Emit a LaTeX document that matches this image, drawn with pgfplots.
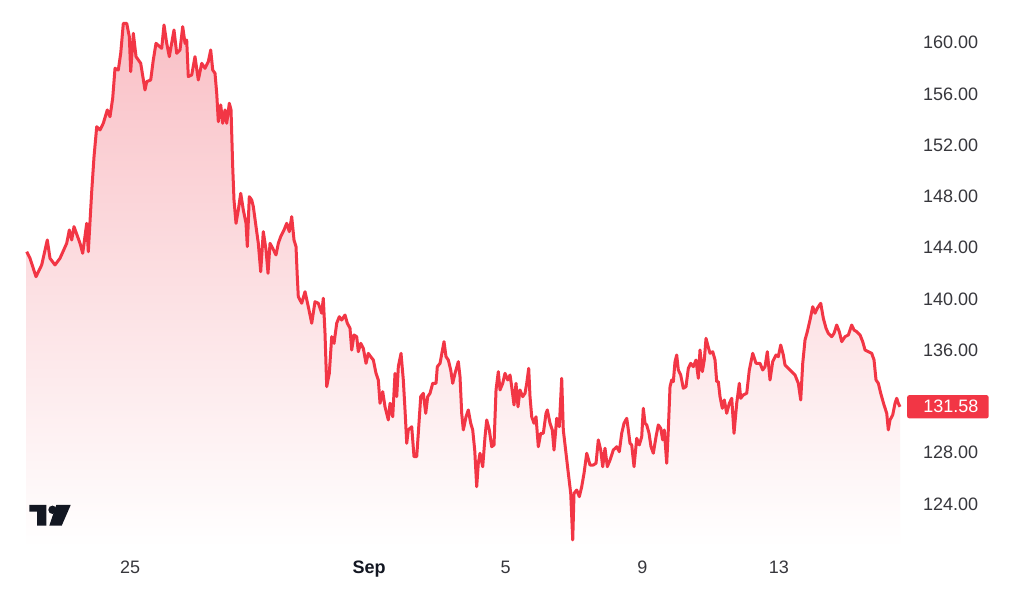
\documentclass[border=0pt]{standalone}
\usepackage{pgfplots}
\pgfplotsset{compat=1.18}
\usepackage{pgfplotstable}
\usepackage{fontspec}
\setmainfont{Liberation Sans}
\definecolor{tvred}{RGB}{242,54,69}
\definecolor{tvfill}{RGB}{249,192,198}
\definecolor{lbl}{RGB}{55,55,60}
\definecolor{tvdark}{RGB}{19,23,34}

% d = day (Aug 25 = 25, Sep 1 = 32, ...), v = price
\pgfplotstableread{
d v
21.975 143.68
22.072 143.17
22.247 141.73
22.414 142.65
22.578 144.60
22.657 143.17
22.804 142.65
22.950 143.17
23.146 144.34
23.223 145.38
23.293 144.60
23.360 145.64
23.536 144.34
23.615 143.56
23.732 145.90
23.779 143.68
23.878 148.37
23.946 151.10
24.025 153.44
24.122 153.19
24.218 153.71
24.335 154.75
24.414 154.22
24.493 155.66
24.561 158.00
24.657 157.87
24.728 159.17
24.804 161.51
24.903 161.51
24.980 160.47
25.020 157.74
25.097 160.73
25.176 158.91
25.313 158.39
25.439 156.31
25.489 156.96
25.606 157.09
25.682 158.65
25.761 159.95
25.928 159.56
25.996 161.38
26.075 159.95
26.151 158.91
26.288 160.99
26.368 159.17
26.464 159.43
26.543 161.25
26.611 159.95
26.660 160.21
26.707 157.35
26.807 157.48
26.903 158.91
27.000 157.09
27.100 158.39
27.196 158.00
27.293 158.52
27.363 159.43
27.422 157.87
27.489 157.61
27.539 156.05
27.586 153.83
27.656 155.14
27.715 153.71
27.782 154.75
27.832 153.71
27.908 155.27
27.958 154.75
28.007 150.32
28.045 147.72
28.104 145.90
28.171 146.94
28.242 148.24
28.318 146.94
28.397 145.90
28.435 144.08
28.493 147.98
28.564 147.72
28.611 147.20
28.690 145.64
28.757 144.34
28.827 142.12
28.903 145.25
28.983 143.82
29.041 142.00
29.100 144.34
29.179 143.95
29.275 143.43
29.343 144.34
29.413 144.86
29.510 145.38
29.589 145.90
29.665 145.25
29.735 146.42
29.802 144.60
29.861 144.08
29.896 141.87
29.928 140.17
30.028 139.66
30.125 140.56
30.221 139.39
30.321 138.10
30.417 139.78
30.514 139.66
30.614 138.88
30.660 140.05
30.710 137.31
30.760 133.15
30.836 134.19
30.906 137.05
30.974 136.53
31.053 138.10
31.129 138.61
31.199 138.35
31.296 138.74
31.363 138.10
31.442 137.71
31.492 136.01
31.559 137.18
31.638 137.05
31.685 135.88
31.756 136.53
31.832 136.14
31.911 134.97
31.978 135.75
32.048 135.49
32.125 135.23
32.204 134.19
32.271 133.67
32.321 131.85
32.400 132.76
32.467 131.58
32.564 130.55
32.614 131.85
32.693 130.80
32.760 134.19
32.810 132.37
32.857 134.71
32.936 135.75
33.003 133.67
33.053 131.33
33.103 128.73
33.149 129.77
33.249 130.02
33.316 127.68
33.395 127.68
33.442 129.51
33.513 132.37
33.589 132.63
33.659 131.07
33.718 132.37
33.785 132.63
33.864 133.41
33.961 133.41
33.999 134.71
34.078 134.97
34.195 136.66
34.253 135.49
34.321 135.23
34.391 134.45
34.450 133.41
34.517 134.19
34.614 135.10
34.663 133.93
34.713 131.07
34.760 129.77
34.839 130.80
34.906 131.33
34.977 130.29
35.035 129.77
35.094 128.20
35.152 125.34
35.199 127.17
35.249 127.95
35.328 126.90
35.396 129.24
35.445 130.55
35.521 129.77
35.592 128.46
35.659 128.60
35.718 132.89
35.785 134.32
35.835 132.89
35.914 133.41
35.981 134.19
36.060 133.67
36.128 134.06
36.177 133.15
36.245 131.72
36.303 133.41
36.362 131.58
36.420 132.89
36.499 132.37
36.567 132.63
36.617 133.41
36.675 134.58
36.713 132.37
36.763 130.80
36.830 130.29
36.889 130.80
36.956 128.46
37.027 129.51
37.103 129.51
37.182 131.07
37.220 131.33
37.299 130.29
37.366 129.77
37.416 128.20
37.495 130.68
37.571 130.02
37.641 133.80
37.688 129.77
37.767 127.95
37.835 126.39
37.905 124.82
37.964 121.18
38.002 124.82
38.081 125.08
38.157 124.56
38.227 125.34
38.295 126.39
38.374 127.95
38.470 127.03
38.567 127.03
38.646 127.17
38.713 128.99
38.784 128.20
38.842 126.90
38.909 128.34
38.977 126.90
39.056 127.42
39.152 128.20
39.252 128.46
39.328 128.07
39.398 129.51
39.466 130.29
39.545 130.68
39.592 129.77
39.641 128.73
39.691 128.60
39.759 126.90
39.838 129.12
39.914 128.60
39.984 129.24
40.031 131.46
40.081 130.29
40.131 130.16
40.198 129.51
40.256 128.46
40.324 127.95
40.403 129.24
40.470 130.16
40.541 129.90
40.599 128.99
40.646 129.77
40.716 127.17
40.763 129.77
40.813 133.15
40.863 133.67
40.910 133.54
40.959 135.10
41.009 135.62
41.056 134.45
41.126 134.06
41.202 133.02
41.281 133.15
41.349 134.58
41.419 134.97
41.495 134.71
41.574 135.23
41.642 133.80
41.691 136.01
41.759 134.32
41.817 135.23
41.867 136.92
41.917 136.40
41.984 135.75
42.063 135.88
42.131 135.23
42.180 133.54
42.227 133.54
42.277 132.37
42.344 131.46
42.403 132.11
42.473 131.07
42.549 131.85
42.620 132.24
42.687 129.51
42.766 131.85
42.842 133.41
42.883 132.24
42.959 132.50
43.059 132.63
43.135 134.45
43.235 135.75
43.331 134.97
43.448 134.97
43.527 134.45
43.595 134.71
43.662 135.88
43.741 133.67
43.820 135.10
43.917 135.62
43.984 135.49
44.054 136.40
44.131 135.62
44.180 134.84
44.277 134.58
44.377 134.32
44.473 134.06
44.570 133.41
44.640 132.11
44.699 134.97
44.766 136.79
44.833 137.44
44.912 138.35
44.992 139.39
45.059 138.88
45.126 139.27
45.226 139.66
45.302 138.49
45.381 137.71
45.448 137.31
45.548 137.05
45.615 137.31
45.694 137.96
45.770 137.44
45.841 136.66
45.937 137.05
46.034 137.18
46.134 137.96
46.201 137.57
46.280 137.44
46.377 137.18
46.456 136.66
46.523 136.01
46.620 135.88
46.719 135.75
46.787 135.23
46.845 133.67
46.913 133.41
46.983 132.63
47.079 131.72
47.159 131.07
47.205 129.77
47.255 130.55
47.334 130.94
47.402 131.85
47.451 132.24
47.498 131.85
47.548 131.58
}\pricedata

\begin{document}
\begin{tikzpicture}
\useasboundingbox (0,0) rectangle (512pt,300pt);
\fill[white] (0,0) rectangle (512pt,300pt);
\begin{axis}[
  at={(12.5pt,26pt)}, anchor=south west,
  scale only axis, width=440.5pt, height=274pt,
  xmin=21.925, xmax=47.723, ymin=120.554, ymax=163.333,
  axis line style={draw=none}, major tick length=0pt,
  xtick={25,32,36,40,44},
  xticklabels={25,\textcolor{tvdark}{\textbf{Sep}},5,9,13},
  ytick={124,128,136,140,144,148,152,156,160},
  yticklabel pos=right,
  /pgf/number format/assume math mode=true,
  yticklabel={\pgfmathprintnumber[fixed,fixed zerofill,precision=2]{\tick}},
  yticklabel style={anchor=west, inner sep=0pt, xshift=8.35pt},
  xticklabel style={anchor=base, inner sep=0pt, yshift=-12.7pt},
  ticklabel style={font=\fontsize{9}{10}\selectfont, text=lbl},
  clip=false,
]
\addplot[draw=none, top color=tvfill, bottom color=white, forget plot]
  table[x=d,y=v]{\pricedata} \closedcycle;
\addplot[tvred, line width=1.5pt, line join=round, no marks]
  table[x=d,y=v]{\pricedata};
\node[anchor=west, fill=tvred, rounded corners=1.2pt, inner xsep=0pt, inner ysep=0pt,
      minimum height=11.7pt, text width=40.8pt, text=white,
      font=\fontsize{9}{10}\selectfont, xshift=0.35pt]
  at (axis cs:47.723,131.58) {\hspace*{8.15pt}131.58};
\end{axis}
% TradingView logo
\fill[tvdark] (14.65pt,47.5pt) -- (23.15pt,47.5pt) -- (23.15pt,37.15pt) -- (18.5pt,37.15pt) -- (18.5pt,44.15pt) -- (14.65pt,44.15pt) -- cycle;
\fill[tvdark] (26.25pt,45.1pt) circle (2.1pt);
\fill[tvdark] (28.15pt,47.5pt) -- (35.35pt,47.5pt) -- (30.85pt,37.15pt) -- (24.65pt,37.15pt) -- cycle;
\end{tikzpicture}
\end{document}
